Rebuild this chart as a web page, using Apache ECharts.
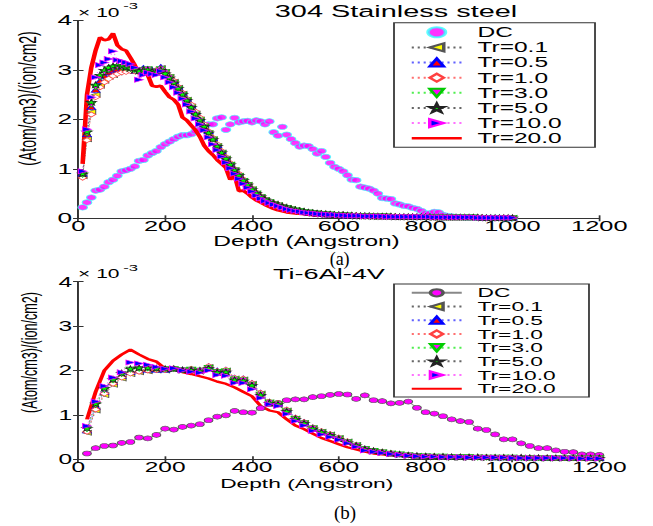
<!DOCTYPE html>
<html><head><meta charset="utf-8">
<script src="https://cdn.jsdelivr.net/npm/echarts@6/dist/echarts.min.js"></script>
<style>
html,body{margin:0;padding:0;background:#fff;overflow:hidden;}
#wrap{width:653px;height:526px;overflow:hidden;position:relative;background:#fff;}
#chart{width:373px;height:526px;transform:scaleX(1.750670);transform-origin:0 0;}
</style></head><body><div id="wrap"><div id="chart"></div></div>
<script>
// ---------- DATA ----------
const seriesNames = ['DC','Tr=0.1','Tr=0.5','Tr=1.0','Tr=3.0','Tr=5.0','Tr=10.0','Tr=20.0'];
const titleTop = '304 Stainless steel';
const titleBottom = 'Ti-6Al-4V';
const xAxisTitle = 'Depth (Angstron)';
const yAxisTitle = '(Atom/cm3)/(ion/cm2)';
const xTicks = [0,200,400,600,800,1000,1200];
const yTicks = [0,1,2,3,4];

const topDepth = [10,20,30,40,50,60,70,80,90,100,110,120,130,140,150,160,170,180,190,200,
210,220,230,240,250,260,270,280,290,300,310,320,330,340,350,360,370,380,390,400,
410,420,430,440,450,460,470,480,490,500,510,520,530,540,550,560,570,580,590,600,
610,620,630,640,650,660,670,680,690,700,710,720,730,740,750,760,770,780,790,800,
810,820,830,840,850,860,870,880,890,900,910,920,930,940,950,960,970,980,990,1000];

const topDC = [0.22,0.32,0.42,0.56,0.58,0.64,0.73,0.78,0.86,0.95,
0.97,1.00,1.05,1.16,1.18,1.27,1.32,1.36,1.44,1.50,
1.55,1.60,1.65,1.68,1.68,1.70,1.76,1.80,1.87,1.90,
1.90,2.02,2.04,1.79,1.90,2.03,1.94,1.96,1.97,1.94,
1.98,1.96,1.90,1.96,1.74,1.67,1.85,1.69,1.60,1.52,
1.45,1.47,1.46,1.40,1.31,1.36,1.24,1.12,1.04,1.00,
0.95,0.87,0.78,0.77,0.64,0.62,0.60,0.56,0.50,0.41,
0.40,0.39,0.30,0.28,0.25,0.24,0.21,0.19,0.15,0.10,
0.10,0.13,0.12,0.07,0.05,0.04,0.03,0.03,0.02,0.02,
0.02,0.01,0.01,0.01,0.01,0.01,0.01,0.00,0.00,0.00];

const topTr01 = [0.85,1.60,2.15,2.50,2.68,2.78,2.86,2.90,2.95,2.98,
3.00,2.98,3.00,3.02,3.00,3.00,2.98,3.00,3.04,2.96,
2.86,2.76,2.64,2.52,2.40,2.26,2.12,2.00,1.86,1.72,
1.60,1.46,1.33,1.21,1.09,0.97,0.86,0.76,0.68,0.59,
0.50,0.43,0.37,0.33,0.30,0.27,0.24,0.21,0.19,0.17,
0.15,0.13,0.12,0.11,0.10,0.09,0.08,0.08,0.07,0.08,
0.07,0.06,0.06,0.05,0.05,0.05,0.05,0.04,0.04,0.04,
0.04,0.04,0.03,0.03,0.03,0.03,0.03,0.03,0.03,0.03,
0.03,0.02,0.02,0.02,0.02,0.02,0.02,0.02,0.02,0.02,
0.02,0.02,0.01,0.01,0.01,0.01,0.01,0.01,0.01,0.01];

const topTr05 = [0.90,1.70,2.25,2.60,2.78,2.88,2.95,3.00,3.02,3.02,
3.00,3.02,2.98,3.00,3.04,3.02,3.00,2.98,3.06,2.98,
2.88,2.78,2.66,2.54,2.42,2.28,2.14,2.02,1.90,1.76,
1.62,1.48,1.35,1.22,1.10,0.99,0.88,0.78,0.69,0.60,
0.51,0.44,0.38,0.34,0.31,0.27,0.24,0.21,0.19,0.17,
0.15,0.13,0.12,0.11,0.10,0.09,0.08,0.08,0.07,0.07,
0.06,0.06,0.06,0.05,0.05,0.05,0.05,0.04,0.04,0.04,
0.04,0.04,0.03,0.03,0.03,0.03,0.03,0.03,0.03,0.03,
0.02,0.02,0.02,0.02,0.02,0.02,0.02,0.02,0.02,0.02,
0.02,0.02,0.01,0.01,0.01,0.01,0.01,0.01,0.01,0.01];

const topTr10 = [0.82,1.58,2.10,2.45,2.65,2.75,2.82,2.88,2.92,2.95,
2.96,2.98,2.97,3.00,2.98,3.00,2.97,3.00,3.02,2.97,
2.88,2.78,2.66,2.54,2.42,2.30,2.16,2.04,1.90,1.76,
1.63,1.50,1.36,1.24,1.12,1.00,0.90,0.79,0.70,0.61,
0.52,0.45,0.39,0.34,0.31,0.28,0.25,0.22,0.20,0.17,
0.16,0.14,0.12,0.11,0.10,0.10,0.09,0.08,0.08,0.07,
0.07,0.06,0.06,0.06,0.05,0.05,0.05,0.05,0.04,0.04,
0.04,0.04,0.04,0.03,0.03,0.03,0.03,0.03,0.03,0.03,
0.03,0.03,0.02,0.02,0.02,0.02,0.02,0.02,0.02,0.02,
0.02,0.02,0.02,0.01,0.01,0.01,0.01,0.01,0.01,0.01];

const topTr30 = [0.88,1.72,2.30,2.65,2.85,2.95,3.00,3.05,3.06,3.05,
3.04,3.02,3.00,2.98,3.00,3.02,2.98,2.96,3.02,2.95,
2.85,2.74,2.62,2.50,2.38,2.24,2.10,1.98,1.85,1.72,
1.59,1.45,1.32,1.20,1.08,0.97,0.86,0.76,0.67,0.58,
0.50,0.43,0.37,0.33,0.29,0.26,0.23,0.21,0.18,0.16,
0.15,0.13,0.12,0.11,0.10,0.09,0.08,0.08,0.07,0.07,
0.06,0.06,0.05,0.05,0.05,0.05,0.04,0.04,0.04,0.04,
0.04,0.03,0.03,0.03,0.03,0.03,0.03,0.03,0.03,0.02,
0.02,0.02,0.02,0.02,0.02,0.02,0.02,0.02,0.02,0.02,
0.02,0.01,0.01,0.01,0.01,0.01,0.01,0.01,0.01,0.01];

const topTr50 = [0.90,1.75,2.35,2.70,2.90,3.00,3.05,3.08,3.10,3.08,
3.05,3.03,3.00,2.98,3.00,3.00,2.97,2.96,3.00,2.93,
2.84,2.74,2.63,2.51,2.39,2.25,2.11,1.99,1.86,1.73,
1.60,1.46,1.33,1.21,1.09,0.98,0.87,0.77,0.68,0.59,
0.51,0.44,0.38,0.33,0.30,0.27,0.24,0.21,0.19,0.17,
0.15,0.14,0.12,0.11,0.10,0.09,0.09,0.08,0.07,0.07,
0.07,0.06,0.06,0.05,0.05,0.05,0.05,0.04,0.04,0.04,
0.04,0.04,0.03,0.03,0.03,0.03,0.03,0.03,0.03,0.03,
0.03,0.02,0.02,0.02,0.02,0.02,0.02,0.02,0.02,0.02,
0.02,0.02,0.01,0.01,0.01,0.01,0.01,0.01,0.01,0.01];

const topTr100 = [0.95,1.80,2.45,2.85,3.10,3.15,3.22,3.38,3.20,3.18,
3.15,3.12,3.05,2.80,2.90,2.95,2.92,2.90,2.98,2.85,
2.75,2.65,2.54,2.42,2.30,2.16,2.02,1.90,1.78,1.64,
1.50,1.38,1.25,1.13,1.01,0.90,0.80,0.70,0.62,0.54,
0.46,0.40,0.35,0.31,0.28,0.25,0.22,0.19,0.17,0.15,
0.14,0.12,0.11,0.10,0.09,0.08,0.08,0.07,0.07,0.06,
0.06,0.05,0.05,0.05,0.05,0.04,0.04,0.04,0.04,0.04,
0.03,0.03,0.03,0.03,0.03,0.03,0.03,0.03,0.03,0.03,
0.03,0.02,0.02,0.02,0.02,0.02,0.02,0.02,0.02,0.02,
0.02,0.01,0.01,0.01,0.01,0.01,0.01,0.01,0.01,0.01];

const topTr200 = [1.10,2.50,3.05,3.40,3.66,3.60,3.62,3.74,3.50,3.42,
3.39,3.25,3.10,2.92,2.95,2.90,2.68,2.66,2.68,2.56,
2.45,2.40,2.30,2.04,1.98,1.88,1.78,1.65,1.47,1.36,
1.28,1.18,1.10,1.02,0.78,0.87,0.55,0.56,0.50,0.42,
0.36,0.32,0.27,0.23,0.19,0.16,0.14,0.12,0.11,0.10,
0.09,0.08,0.07,0.06,0.06,0.05,0.05,0.05,0.04,0.04,
0.04,0.04,0.04,0.03,0.03,0.03,0.03,0.03,0.03,0.03,
0.02,0.02,0.02,0.02,0.02,0.02,0.02,0.02,0.02,0.02,
0.02,0.02,0.02,0.02,0.01,0.01,0.01,0.01,0.01,0.01,
0.01,0.01,0.01,0.01,0.01,0.01,0.01,0.01,0.01,0.01];

const botDepth = [20,40,60,80,100,120,140,160,180,200,
220,240,260,280,300,320,340,360,380,400,
420,440,460,480,500,520,540,560,580,600,
620,640,660,680,700,720,740,760,780,800,
820,840,860,880,900,920,940,960,980,1000,
1020,1040,1060,1080,1100,1120,1140,1160,1180,1200];

const botDC = [0.13,0.25,0.30,0.31,0.37,0.39,0.49,0.47,0.55,0.69,
0.67,0.73,0.76,0.79,0.88,0.96,0.99,1.09,1.06,1.05,
1.15,1.24,1.27,1.33,1.35,1.35,1.40,1.42,1.45,1.47,
1.46,1.36,1.44,1.33,1.31,1.26,1.27,1.30,1.16,1.06,
1.03,0.97,0.90,0.86,0.84,0.69,0.66,0.56,0.45,0.45,
0.36,0.30,0.25,0.25,0.20,0.17,0.16,0.11,0.11,0.10];

const botTr01 = [0.60,1.10,1.45,1.68,1.82,1.92,1.96,1.98,2.00,2.00,
2.02,2.00,2.02,2.00,2.08,1.98,2.00,1.82,1.80,1.70,
1.48,1.28,1.25,1.10,0.92,0.82,0.70,0.62,0.56,0.48,
0.40,0.32,0.23,0.19,0.16,0.13,0.11,0.09,0.08,0.07,
0.06,0.06,0.05,0.05,0.05,0.05,0.04,0.04,0.04,0.04,
0.04,0.04,0.03,0.03,0.03,0.03,0.03,0.03,0.03,0.03];

const botTr05 = [0.65,1.18,1.52,1.74,1.88,1.96,2.00,2.02,2.02,2.02,
2.04,2.02,2.03,2.02,2.10,2.00,2.02,1.84,1.82,1.72,
1.50,1.30,1.26,1.12,0.94,0.84,0.72,0.63,0.56,0.48,
0.40,0.32,0.24,0.19,0.16,0.13,0.11,0.09,0.08,0.07,
0.07,0.06,0.06,0.05,0.05,0.05,0.05,0.04,0.04,0.04,
0.04,0.04,0.04,0.03,0.03,0.03,0.03,0.03,0.03,0.03];

const botTr10 = [0.62,1.12,1.48,1.70,1.84,1.93,1.97,2.00,2.01,2.01,
2.03,2.01,2.04,2.01,2.10,1.99,2.02,1.84,1.82,1.72,
1.50,1.30,1.27,1.12,0.94,0.84,0.72,0.64,0.57,0.49,
0.41,0.33,0.24,0.20,0.17,0.14,0.11,0.10,0.08,0.07,
0.07,0.06,0.06,0.06,0.05,0.05,0.05,0.04,0.04,0.04,
0.04,0.04,0.04,0.04,0.03,0.03,0.03,0.03,0.03,0.03];

const botTr30 = [0.68,1.22,1.56,1.78,1.92,2.02,2.04,2.05,2.04,2.03,
2.03,2.01,2.02,2.00,2.06,1.97,1.98,1.80,1.78,1.68,
1.46,1.28,1.24,1.08,0.91,0.81,0.70,0.61,0.54,0.47,
0.39,0.31,0.23,0.19,0.16,0.13,0.11,0.09,0.08,0.07,
0.06,0.06,0.05,0.05,0.05,0.04,0.04,0.04,0.04,0.04,
0.03,0.03,0.03,0.03,0.03,0.03,0.03,0.03,0.03,0.02];

const botTr50 = [0.70,1.25,1.60,1.80,1.94,2.04,2.06,2.06,2.05,2.04,
2.04,2.01,2.01,1.99,2.05,1.96,1.97,1.79,1.77,1.67,
1.45,1.27,1.24,1.08,0.91,0.81,0.69,0.61,0.54,0.46,
0.38,0.31,0.23,0.19,0.16,0.13,0.11,0.09,0.08,0.07,
0.06,0.06,0.05,0.05,0.05,0.05,0.04,0.04,0.04,0.04,
0.04,0.03,0.03,0.03,0.03,0.03,0.03,0.03,0.03,0.03];

const botTr100 = [0.75,1.30,1.65,1.84,1.96,2.18,2.16,2.13,2.08,2.04,
2.05,2.00,1.97,1.95,2.00,1.90,1.88,1.72,1.72,1.58,
1.38,1.24,1.20,1.02,0.86,0.76,0.64,0.56,0.50,0.44,
0.36,0.28,0.20,0.17,0.14,0.12,0.10,0.08,0.07,0.06,
0.06,0.05,0.05,0.05,0.04,0.04,0.04,0.04,0.04,0.03,
0.03,0.03,0.03,0.03,0.03,0.03,0.03,0.02,0.02,0.02];

const botTr200 = [0.90,1.52,2.00,2.22,2.36,2.47,2.36,2.26,2.20,2.04,
2.08,1.96,1.92,1.87,1.82,1.75,1.70,1.62,1.52,1.42,
1.20,1.10,1.06,0.90,0.76,0.68,0.58,0.48,0.41,0.34,
0.27,0.22,0.17,0.13,0.11,0.09,0.08,0.07,0.06,0.06,
0.05,0.05,0.05,0.05,0.05,0.04,0.04,0.04,0.04,0.04,
0.04,0.03,0.03,0.03,0.03,0.03,0.03,0.03,0.03,0.03];

// ---------- LAYOUT / STYLE ----------
const W = 373, S = 653 / 373;
const FONT = 'Liberation Sans, Arial, Helvetica, sans-serif';
const STAR = 'path://M50,0 L61,35 L98,35 L68,57 L79,91 L50,70 L21,91 L32,57 L2,35 L39,35 Z';
const zip = (xs, ys) => xs.map((x, i) => [x, ys[i]]);
const DOT = [1.2, 2.2];

const styles = [
  {symbol:'triangle', rot:90,  fill:'#ffff00', edge:'#555555', line:'#666666'},
  {symbol:'triangle', rot:0,   fill:'#ff0000', edge:'#0000ff', line:'#6060ff'},
  {symbol:'diamond',  rot:0,   fill:'#ffffff', edge:'#ff4040', line:'#ff7070'},
  {symbol:'triangle', rot:180, fill:'#ff00ff', edge:'#00cc00', line:'#50ee50'},
  {symbol:STAR,       rot:0,   fill:'#00ff00', edge:'#222222', line:'#666666'},
  {symbol:'triangle', rot:-90, fill:'#0000ff', edge:'#ff00ff', line:'#ff70ff'}
];

function buildSeries(idx, depth, dc, trs, tr20, suffix) {
  const out = [];
  if (idx === 0) {
    out.push({name:'DC'+suffix, type:'scatter', xAxisIndex:idx, yAxisIndex:idx,
      data: zip(depth, dc), symbol:'circle', symbolSize:5.5,
      itemStyle:{color:'#ff00ff', borderColor:'#33ffff', borderWidth:0.7}});
  } else {
    out.push({name:'DC'+suffix, type:'line', xAxisIndex:idx, yAxisIndex:idx,
      data: zip(depth, dc), symbol:'circle', symbolSize:5,
      itemStyle:{color:'#ff00ff', borderColor:'#555555', borderWidth:0.6},
      lineStyle:{color:'#888888', width:0.7}});
  }
  trs.forEach((vals, i) => {
    const st = styles[i];
    out.push({name:seriesNames[i+1]+suffix, type:'line', xAxisIndex:idx, yAxisIndex:idx,
      data: zip(depth, vals), symbol:st.symbol, symbolRotate:st.rot,
      symbolSize: st.symbol === STAR ? 6 : 5,
      itemStyle:{color:st.fill, borderColor:st.edge, borderWidth:0.6},
      lineStyle:{color:st.line, width:0.6, type:DOT}});
  });
  out.push({name:'Tr=20.0'+suffix, type:'line', xAxisIndex:idx, yAxisIndex:idx,
    data: zip(depth, tr20), symbol:'none',
    itemStyle:{color:'#ff0000'}, lineStyle:{color:'#ff0000', width:idx===0?2.6:2.3}});
  return out;
}

const series = [].concat(
  buildSeries(0, topDepth, topDC, [topTr01, topTr05, topTr10, topTr30, topTr50, topTr100], topTr200, ''),
  buildSeries(1, botDepth, botDC, [botTr01, botTr05, botTr10, botTr30, botTr50, botTr100], botTr200, ' ')
);

const axisLine = {show:true, lineStyle:{color:'#333', width:1}};
function xAx(grid, pos, show, fs, margin) {
  return {type:'value', gridIndex:grid, position:pos, min:xTicks[0], max:xTicks[xTicks.length-1], interval:200,
    axisLine:axisLine, axisTick:{show:true, inside:true, length:3, lineStyle:{color:'#333'}},
    axisLabel:{show:show, fontSize:fs, lineHeight:fs, color:'#000', fontFamily:FONT, margin:margin, formatter: v => String(v)},
    splitLine:{show:false}};
}
function yAx(grid, pos, show, fs) {
  return {type:'value', gridIndex:grid, position:pos, min:yTicks[0], max:yTicks[yTicks.length-1], interval:1,
    axisLine:axisLine, axisTick:{show:true, inside:true, length:3, lineStyle:{color:'#333'}},
    axisLabel:{show:show, fontSize:fs, color:'#000', fontFamily:FONT, margin:3.5, formatter: v => String(v)},
    splitLine:{show:false}};
}

function legendCfg(top, fs, lh, ih, names, pr) {
  return {orient:'vertical', left:394/S, top:top, data:names,
    itemWidth:50/S, itemHeight:ih, itemGap:0, selectedMode:false,
    padding:[2, pr, 1.5, 16/S], borderColor:'#333', borderWidth:1, backgroundColor:'#fff',
    textStyle:{fontSize:fs, lineHeight:lh, color:'#000', fontFamily:FONT, padding:[0,0,0,4]},
    formatter: n => n.trim()};
}
const legTop = seriesNames.map(n => n === 'Tr=20.0' ? {name:n, icon:'path://M0,0H40V3.2H0Z'} : {name:n});
const legBot = seriesNames.map(n => n === 'Tr=20.0' ? {name:n+' ', icon:'path://M0,0H40V3H0Z'} : {name:n+' '});

function txt(x, y, text, size, opts) {
  return Object.assign({type:'text', x:x, y:y, silent:true,
    style:{text:text, font:size+'px '+FONT, fill:'#000', textAlign:'center', textVerticalAlign:'middle'}}, opts||{});
}

const graphics = [
  txt(226.2, 11.5, titleTop, 16.5),
  txt(187.9, 273.5, titleBottom, 15.5),
  txt(175.1, 241, xAxisTitle, 14),
  txt(175.2, 483.5, xAxisTitle, 13),
  txt(15.9, 98.5, yAxisTitle, 14, {rotation:Math.PI/2}),
  txt(16.9, 352.5, yAxisTitle, 12.6, {rotation:Math.PI/2}),
  {type:'text', x:44.6, y:12.8, silent:true, style:{text:'× 10', font:'12px '+FONT, fill:'#000', textAlign:'left', textVerticalAlign:'middle'}},
  {type:'text', x:70.4, y:5.8, silent:true, style:{text:'-3', font:'9.5px '+FONT, fill:'#000', textAlign:'left', textVerticalAlign:'middle'}},
  {type:'text', x:44.6, y:274.5, silent:true, style:{text:'× 10', font:'12px '+FONT, fill:'#000', textAlign:'left', textVerticalAlign:'middle'}},
  {type:'text', x:70.4, y:267.5, silent:true, style:{text:'-3', font:'9.5px '+FONT, fill:'#000', textAlign:'left', textVerticalAlign:'middle'}},
  {type:'text', x:194, y:259, scaleX:1/S, silent:true, style:{text:'(a)', font:'18px Liberation Serif, Times New Roman, serif', fill:'#000', textAlign:'center', textVerticalAlign:'middle'}},
  {type:'text', x:197.1, y:512.5, scaleX:1/S, silent:true, style:{text:'(b)', font:'19px Liberation Serif, Times New Roman, serif', fill:'#000', textAlign:'center', textVerticalAlign:'middle'}}
];

const gl = 78.3 / S, gw = 521 / S;
const option = {
  animation:false,
  backgroundColor:'#fff',
  textStyle:{fontFamily:FONT},
  grid:[
    {left:gl, top:20.5, width:gw, height:197.8, containLabel:false},
    {left:gl, top:281.7, width:gw, height:177.6, containLabel:false}
  ],
  xAxis:[xAx(0,'bottom',true,14.5,0.5), xAx(1,'bottom',true,14,1), xAx(0,'top',false,15,2), xAx(1,'top',false,14,2)],
  yAxis:[yAx(0,'left',true,15), yAx(1,'left',true,14), yAx(0,'right',false,15), yAx(1,'right',false,14)],
  legend:[legendCfg(22.7, 14, 15.14, 10, legTop, 19), legendCfg(284, 13, 13.7, 9, legBot, 19)],
  series: series,
  graphic: graphics
};

const chart = echarts.init(document.getElementById('chart'), null, {renderer:'svg', width:W, height:526});
chart.setOption(option);
</script>
</body></html>
